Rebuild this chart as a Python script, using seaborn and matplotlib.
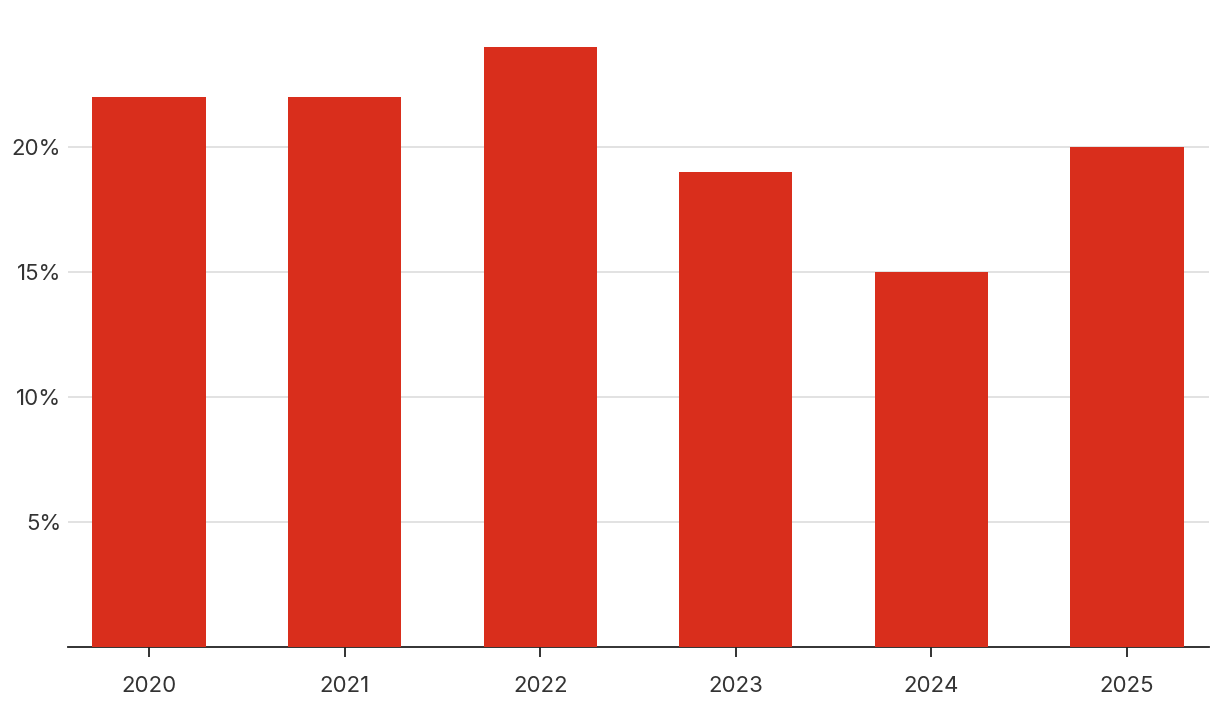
import pandas as pd
import seaborn as sns
import matplotlib.pyplot as plt
from matplotlib.ticker import FuncFormatter

years = ["2020", "2021", "2022", "2023", "2024", "2025"]
share = [22, 22, 24, 19, 15, 20]
yticks = [5, 10, 15, 20]

df = pd.DataFrame({"year": years, "share": share})

sns.set_style("white")
plt.rcParams["font.family"] = ["Inter", "DejaVu Sans"]

fig = plt.figure(figsize=(12.2, 7.14), dpi=100)
ax = fig.add_axes([68 / 1220, 67 / 714, (1209 - 68) / 1220, 647 / 714])

sns.barplot(data=df, x="year", y="share", color="#d92e1c", saturation=1,
            width=0.58, linewidth=0, ax=ax, zorder=3)

ax.set_xlim(-0.415, 5.42)
ax.set_ylim(0, 25.88)
ax.set_yticks(yticks)
ax.yaxis.set_major_formatter(FuncFormatter(lambda v, p: f"{v:.0f}%"))
ax.grid(axis="y", color="#dddddd", linewidth=1.2, zorder=0)
ax.set_xlabel("")
ax.set_ylabel("")

for side in ["top", "right", "left"]:
    ax.spines[side].set_visible(False)
ax.spines["bottom"].set_color("#222222")
ax.spines["bottom"].set_linewidth(1.3)

ax.tick_params(axis="y", left=False, length=0, pad=5, labelsize=16, labelcolor="#333333")
ax.tick_params(axis="x", bottom=True, length=7, width=1.3, color="#222222", pad=14,
               labelsize=16, labelcolor="#333333")

fig.savefig("out.png", dpi=100)
